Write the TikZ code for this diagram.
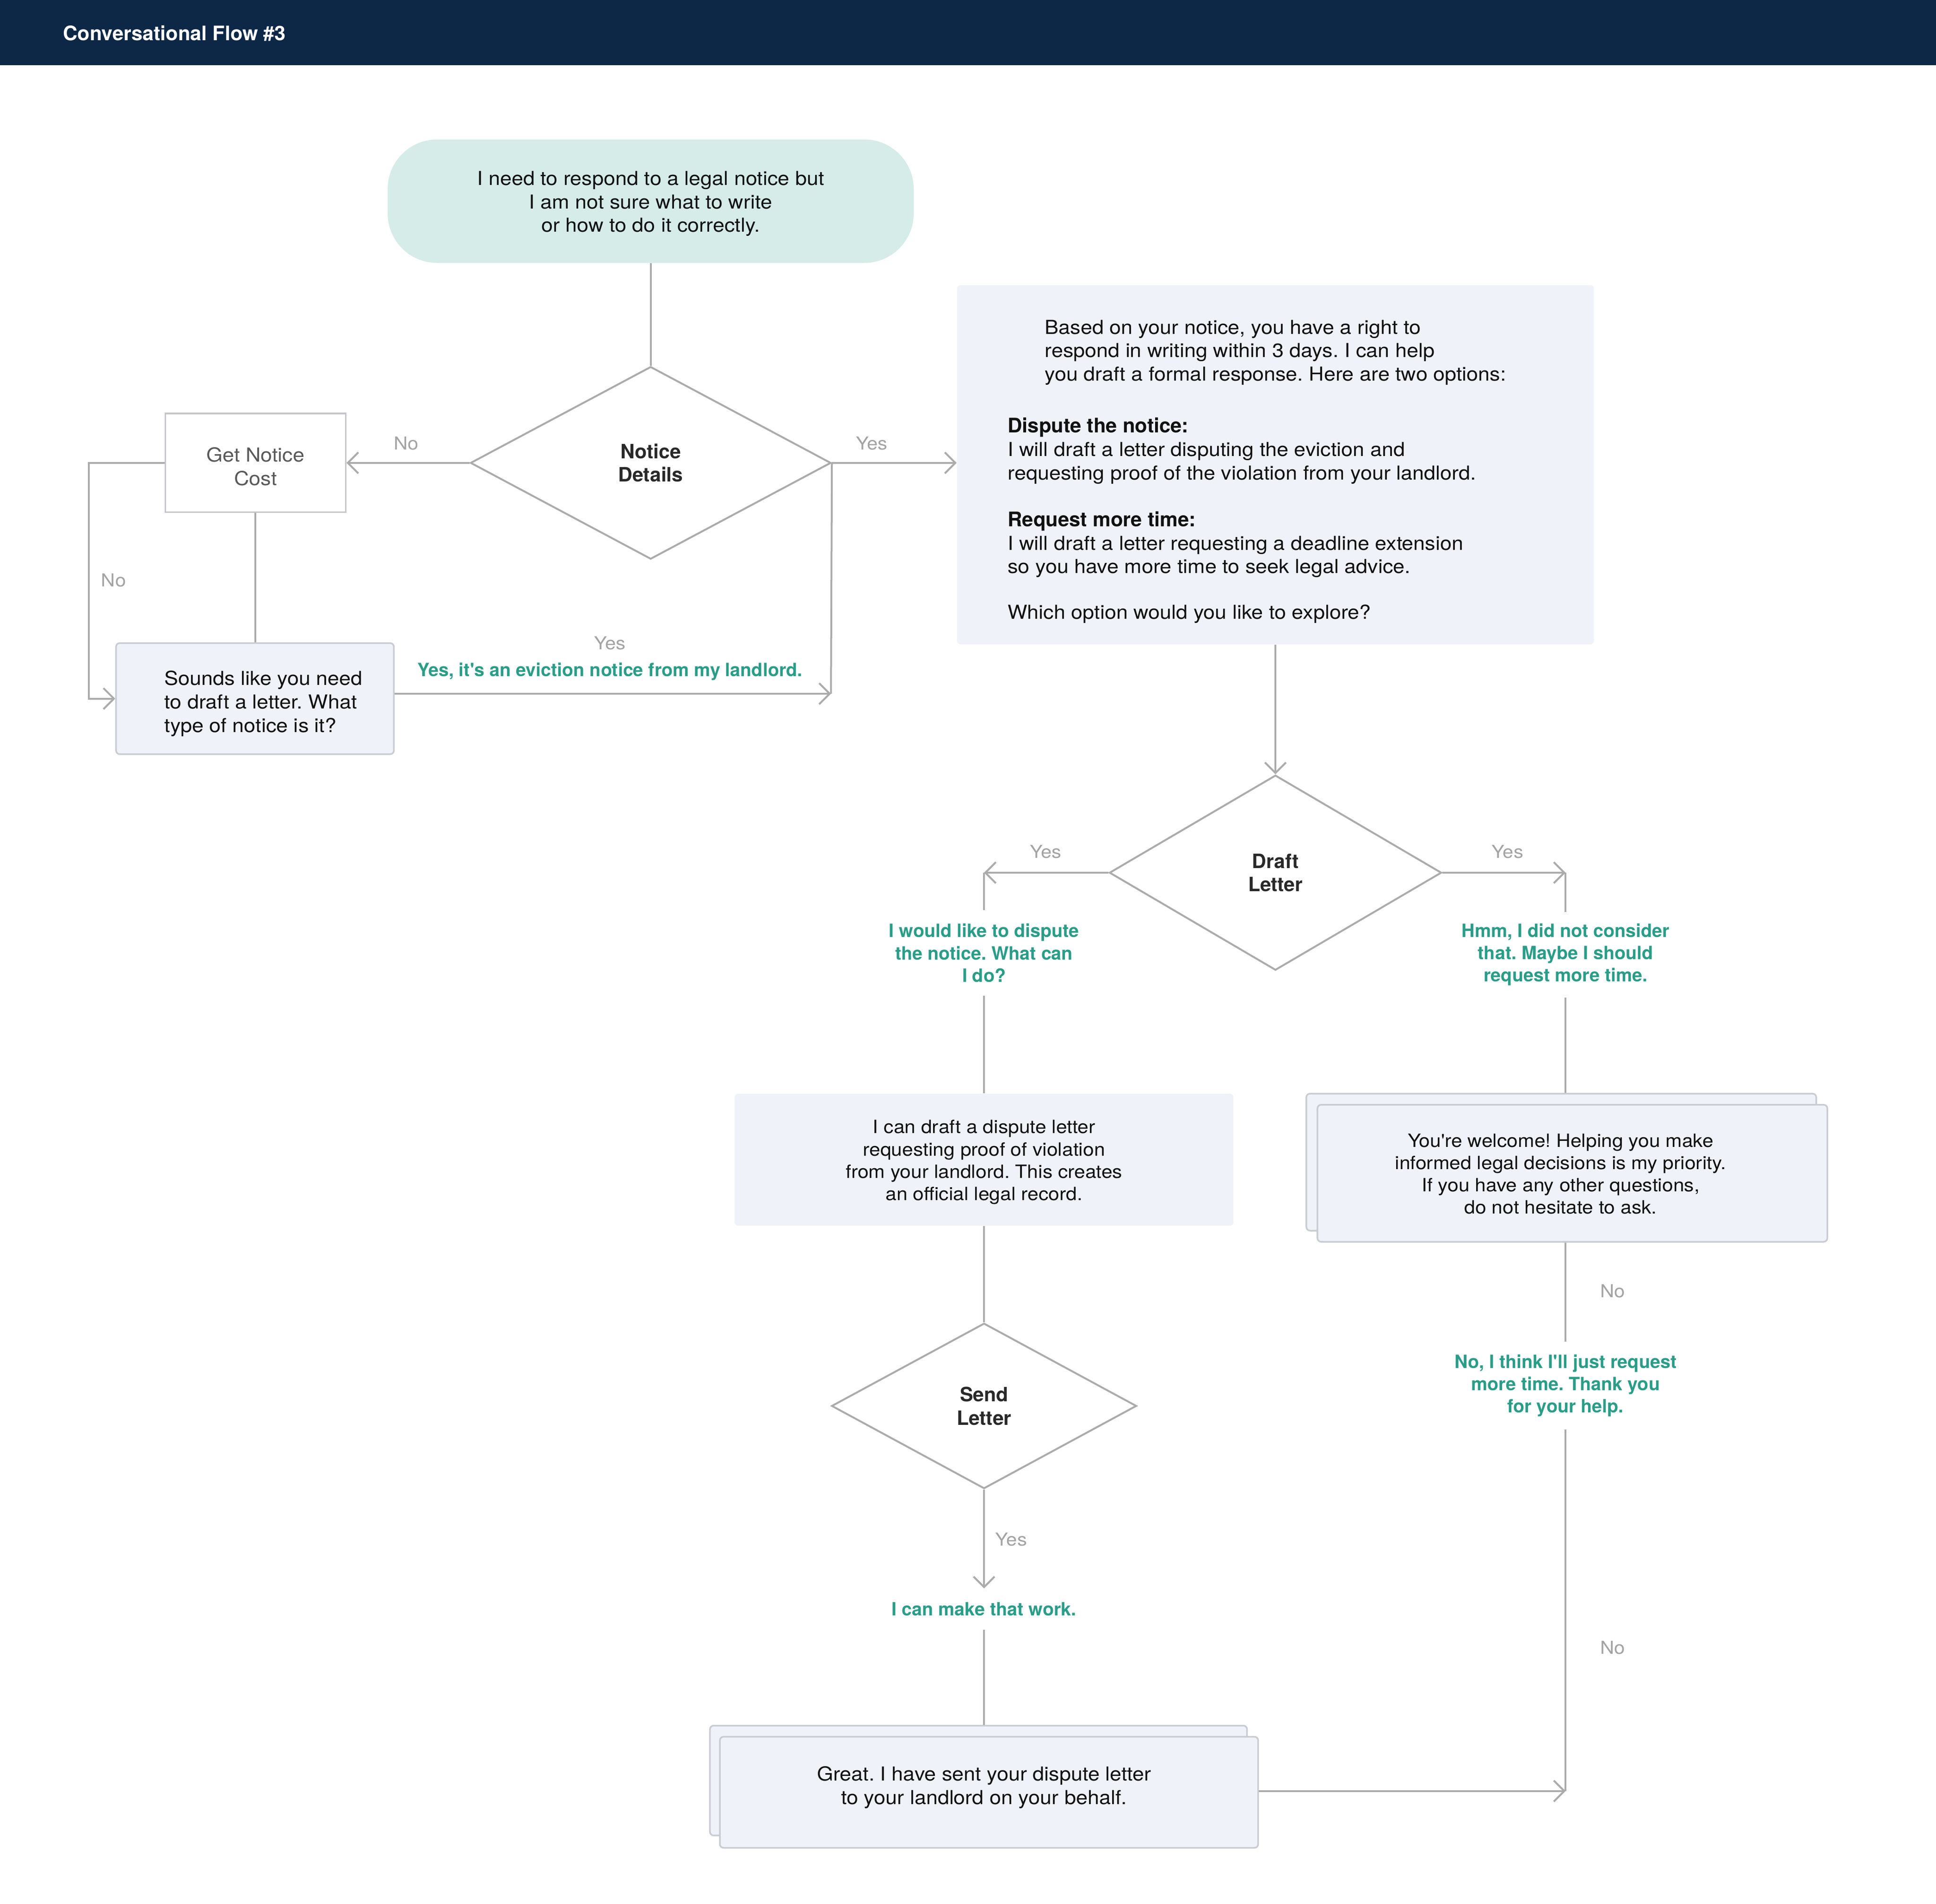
\documentclass[tikz,border=0pt]{standalone}
\usepackage{fontspec}
\setmainfont{TeX Gyre Heros}[FakeStretch=1.08, Ligatures=TeXOff, BoldFeatures={FakeStretch=1.0}]
\usetikzlibrary{arrows.meta,shapes.geometric}
\definecolor{navy}{HTML}{0D2847}
\definecolor{teal0}{HTML}{D5ECE8}
\definecolor{boxbg}{HTML}{EFF2F9}
\definecolor{boxline}{HTML}{C9CCD3}
\definecolor{lineg}{HTML}{ABABAB}
\definecolor{lblg}{HTML}{A3A3A3}
\definecolor{green0}{HTML}{2A9D88}
\definecolor{ink}{HTML}{111111}
\tikzset{
  conn/.style={draw=lineg, line width=1.5pt},
  arr/.style={conn, -{Straight Barb[length=8.5pt,width=17pt,line width=1.5pt]}},
  body/.style={font=\frenchspacing\fontsize{15.6}{19}\selectfont, text=ink},
  small/.style={font=\frenchspacing\fontsize{14.8}{18}\selectfont, text=ink},
  lbl/.style={font=\fontsize{14.5}{17}\selectfont, text=lblg, inner sep=0pt},
  reply/.style={font=\frenchspacing\bfseries\fontsize{14.8}{18}\selectfont, text=green0, align=center, fill=white, inner xsep=2pt, inner ysep=0pt},
  decision/.style={diamond, draw=lineg, line width=1.5pt, fill=white, inner sep=0pt, align=center,
    font=\bfseries\fontsize{16}{19}\selectfont, text=ink!90},
  panel/.style={rectangle, fill=boxbg, rounded corners=3pt, inner sep=0pt},
  card/.style={rectangle, fill=boxbg, draw=boxline, line width=1.3pt, rounded corners=3pt, inner sep=0pt},
}
\begin{document}
\begin{tikzpicture}[x=1pt,y=-1pt]
\useasboundingbox (0,0) rectangle (1568,1542.15);
\fill[navy] (0,0) rectangle (1568,53);
\node[anchor=west, text=white, font=\bfseries\fontsize{16.2}{18}\selectfont, inner sep=0pt] (title) at (51,27) {Conversational Flow \#3};

% start
\node[fill=teal0, rounded corners=40pt, minimum width=426pt, minimum height=100pt, inner sep=0pt] (start) at (527,163) {};
\node[body, align=center, inner sep=0pt] (startt) at (527,165)
  {I need to respond to a legal notice but\\ I am not sure what to write\\ or how to do it correctly.};

% notice details
\node[decision, minimum width=292pt, minimum height=156pt] (nd) at (527,375) {Notice\\Details};

% get notice cost
\node[rectangle, draw=boxline!90!black!80, line width=1.3pt, fill=white, minimum width=146pt, minimum height=80pt, inner sep=0pt] (gnc) at (207,375) {};
\node[align=center, font=\fontsize{15.6}{19}\selectfont, text=black!65, inner sep=0pt] (gnct) at (207,378) {Get Notice\\Cost};

% sounds like
\node[card, minimum width=225pt, minimum height=90pt] (sounds) at (206.5,566) {};
\node[body, align=left, anchor=west, inner sep=0pt] (soundst) at (133,570)
  {Sounds like you need\\to draft a letter. What\\type of notice is it?};

% big panel
\node[panel, minimum width=516pt, minimum height=291pt] (big) at (1033,376.5) {};
\node[body, align=left, anchor=north west, inner sep=0pt] (bigt) at (816,259)
  {\hspace*{30pt}Based on your notice, you have a right to\\
   \hspace*{30pt}respond in writing within 3 days. I can help\\
   \hspace*{30pt}you draft a formal response. Here are two options:\\[23pt]
   {\bfseries\fontsize{16.3}{19}\selectfont Dispute the notice:}\\
   I will draft a letter disputing the eviction and\\
   requesting proof of the violation from your landlord.\\[19pt]
   {\bfseries\fontsize{16.3}{19}\selectfont Request more time:}\\
   I will draft a letter requesting a deadline extension\\
   so you have more time to seek legal advice.\\[18pt]
   Which option would you like to explore?};

% draft letter
\node[decision, minimum width=269pt, minimum height=158pt] (dl) at (1033,707) {Draft\\Letter};

% dispute branch
\node[reply, minimum height=69pt] (dispq) at (797,772) {I would like to dispute\\the notice. What can\\I do?};
\node[panel, minimum width=404pt, minimum height=107pt] (disp) at (797,939.5) {};
\node[small, align=center, inner sep=0pt] (dispt) at (797,941.5)
  {I can draft a dispute letter\\requesting proof of violation\\from your landlord. This creates\\an official legal record.};
\node[decision, minimum width=247pt, minimum height=134pt] (send) at (797,1139) {Send\\Letter};
\node[reply, minimum height=33pt] (work) at (797,1303.5) {I can make that work.};
\node[card, minimum width=435pt, minimum height=89pt] (greatback) at (792.5,1442.5) {};
\node[card, minimum width=436pt, minimum height=90pt] (great) at (801,1452) {};
\node[body, align=center, inner sep=0pt] (greatt) at (797,1448)
  {Great. I have sent your dispute letter\\to your landlord on your behalf.};

% more time branch
\node[reply, minimum height=69pt] (hmm) at (1268,773.5) {Hmm, I did not consider\\that. Maybe I should\\request more time.};
\node[card, minimum width=413pt, minimum height=111pt] (welcomeback) at (1264.5,941.5) {};
\node[card, minimum width=413pt, minimum height=111pt] (welcome) at (1273.5,950.5) {};
\node[small, align=center, inner sep=0pt] (welcomet) at (1264,951)
  {You're welcome! Helping you make\\informed legal decisions is my priority.\\If you have any other questions,\\do not hesitate to ask.};
\node[reply, minimum height=71pt] (nolab) at (1268,1122.5) {No, I think I'll just request\\more time. Thank you\\for your help.};

% coordinates
\coordinate (yj) at (673,562);
\coordinate (lc) at (797,707);
\coordinate (rc) at (1268,707);
\coordinate (br) at (1268,1451);
\coordinate (lk) at (72,375);

% connectors
\draw[conn] (start.south) -- (nd.north);
\draw[arr] (nd.west) -- (gnc.east);
\draw[arr] (gnc.west) -- (lk) |- (sounds.west);
\draw[conn] (gnc.south) -- (gnc.south |- sounds.north);
\draw[arr] (sounds.east |- yj) -- (yj);
\draw[conn] (nd.east) -- (yj);
\draw[arr] (nd.east) -- (big.west |- nd.east);
\draw[arr] (big.south) -- (dl.north);
\draw[arr] (dl.west) -- (lc);
\draw[conn] (lc) -- (dispq.north);
\draw[conn] (dispq.south) -- (disp.north);
\draw[conn] (disp.south) -- (send.north);
\draw[arr] (send.south) -- (work.north);
\draw[conn] (work.south) -- (work.south |- greatback.north);
\draw[arr] (dl.east) -- (rc);
\draw[conn] (rc) -- (hmm.north);
\draw[conn] (hmm.south) -- (hmm.south |- welcomeback.north);
\draw[conn] (br |- welcome.south) -- (nolab.north);
\draw[conn] (nolab.south) -- (br);
\draw[arr] (great.east |- br) -- (br);

% labels
\node[lbl] (l1) at (329,359) {No};
\node[lbl] (l2) at (706,359) {Yes};
\node[lbl] (l3) at (92,470) {No};
\node[lbl] (l4) at (494,521) {Yes};
\node[reply, fill=none] (evict) at (494,544) {Yes, it's an eviction notice from my landlord.};
\node[lbl] (l5) at (847,690) {Yes};
\node[lbl] (l6) at (1221,690) {Yes};
\node[lbl] (l7) at (1306,1046) {No};
\node[lbl] (l8) at (819,1247) {Yes};
\node[lbl] (l9) at (1306,1335) {No};
\end{tikzpicture}
\end{document}
